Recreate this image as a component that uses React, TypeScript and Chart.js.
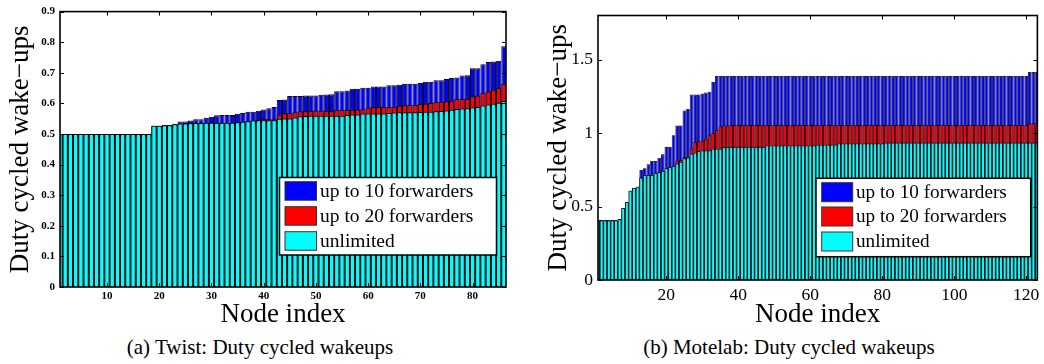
import React, { useEffect, useRef } from "react";
import { Chart, registerables } from "chart.js";

Chart.register(...registerables);

const SERIF = '"Liberation Serif", "Times New Roman", serif';

// ---------- Data ----------
const seriesLabels = ["up to 10 forwarders", "up to 20 forwarders", "unlimited"];
const seriesColors = ["#0000ff", "#ff0000", "#00ffff"];

// (a) Twist: 86 nodes, sorted
const twistUnlimited = [
  0.500, 0.500, 0.500, 0.500, 0.500, 0.500, 0.500, 0.500, 0.500, 0.500,
  0.500, 0.500, 0.500, 0.500, 0.500, 0.500, 0.500, 0.500, 0.527, 0.527,
  0.529, 0.529, 0.532, 0.534, 0.534, 0.535, 0.536, 0.536, 0.537, 0.537,
  0.537, 0.537, 0.537, 0.537, 0.538, 0.540, 0.542, 0.544, 0.545, 0.545,
  0.545, 0.545, 0.550, 0.551, 0.551, 0.554, 0.558, 0.559, 0.560, 0.560,
  0.560, 0.560, 0.560, 0.560, 0.560, 0.562, 0.564, 0.564, 0.567, 0.567,
  0.567, 0.567, 0.567, 0.569, 0.570, 0.571, 0.571, 0.571, 0.571, 0.572,
  0.573, 0.573, 0.574, 0.575, 0.577, 0.579, 0.582, 0.583, 0.584, 0.587,
  0.588, 0.593, 0.596, 0.599, 0.602, 0.608,
];
const twistUpTo20 = [
  0.500, 0.500, 0.500, 0.500, 0.500, 0.500, 0.500, 0.500, 0.500, 0.500,
  0.500, 0.500, 0.500, 0.500, 0.500, 0.500, 0.500, 0.500, 0.527, 0.527,
  0.529, 0.529, 0.532, 0.534, 0.534, 0.535, 0.536, 0.536, 0.537, 0.537,
  0.537, 0.537, 0.537, 0.537, 0.538, 0.540, 0.542, 0.544, 0.545, 0.550,
  0.550, 0.548, 0.564, 0.568, 0.568, 0.571, 0.574, 0.574, 0.576, 0.577,
  0.577, 0.576, 0.575, 0.579, 0.579, 0.579, 0.579, 0.580, 0.581, 0.586,
  0.588, 0.588, 0.588, 0.588, 0.589, 0.592, 0.594, 0.595, 0.595, 0.598,
  0.599, 0.601, 0.605, 0.605, 0.607, 0.609, 0.615, 0.615, 0.615, 0.623,
  0.626, 0.635, 0.639, 0.645, 0.651, 0.664,
];
const twistUpTo10 = [
  0.500, 0.500, 0.500, 0.500, 0.500, 0.500, 0.500, 0.500, 0.500, 0.500,
  0.500, 0.500, 0.500, 0.500, 0.500, 0.500, 0.500, 0.500, 0.527, 0.527,
  0.529, 0.529, 0.532, 0.541, 0.541, 0.544, 0.548, 0.548, 0.553, 0.556,
  0.561, 0.562, 0.562, 0.562, 0.566, 0.569, 0.573, 0.573, 0.576, 0.580,
  0.584, 0.588, 0.611, 0.613, 0.624, 0.624, 0.624, 0.626, 0.626, 0.626,
  0.628, 0.629, 0.630, 0.640, 0.640, 0.642, 0.648, 0.648, 0.651, 0.651,
  0.655, 0.655, 0.655, 0.659, 0.659, 0.661, 0.664, 0.664, 0.664, 0.667,
  0.671, 0.671, 0.676, 0.676, 0.680, 0.683, 0.685, 0.691, 0.692, 0.715,
  0.715, 0.728, 0.735, 0.737, 0.739, 0.787,
];
const twistXTicks = [10, 20, 30, 40, 50, 60, 70, 80];
const twistYTicks = [0, 0.1, 0.2, 0.3, 0.4, 0.5, 0.6, 0.7, 0.8, 0.9];

// (b) Motelab: 123 nodes, sorted
const motelabUnlimited = [
  0.406, 0.406, 0.406, 0.406, 0.406, 0.406, 0.413, 0.489, 0.529, 0.608,
  0.626, 0.635, 0.697, 0.715, 0.715, 0.715, 0.729, 0.733, 0.742, 0.760,
  0.769, 0.776, 0.792, 0.803, 0.828, 0.832, 0.859, 0.866, 0.877, 0.881,
  0.881, 0.881, 0.893, 0.893, 0.893, 0.904, 0.904, 0.906, 0.906, 0.906,
  0.906, 0.906, 0.906, 0.906, 0.906, 0.906, 0.906, 0.915, 0.915, 0.915,
  0.915, 0.915, 0.915, 0.915, 0.915, 0.915, 0.915, 0.915, 0.915, 0.915,
  0.915, 0.920, 0.920, 0.920, 0.920, 0.920, 0.920, 0.929, 0.929, 0.929,
  0.929, 0.929, 0.929, 0.929, 0.929, 0.929, 0.929, 0.929, 0.929, 0.929,
  0.935, 0.935, 0.935, 0.935, 0.935, 0.935, 0.935, 0.935, 0.935, 0.935,
  0.935, 0.935, 0.935, 0.935, 0.935, 0.935, 0.935, 0.935, 0.935, 0.935,
  0.935, 0.935, 0.935, 0.935, 0.935, 0.935, 0.935, 0.935, 0.935, 0.935,
  0.935, 0.935, 0.935, 0.935, 0.935, 0.935, 0.935, 0.935, 0.935, 0.935,
  0.935, 0.935, 0.935,
];
const motelabUpTo20 = [
  0.406, 0.406, 0.406, 0.406, 0.406, 0.406, 0.413, 0.489, 0.529, 0.608,
  0.626, 0.635, 0.697, 0.715, 0.715, 0.715, 0.729, 0.733, 0.742, 0.760,
  0.769, 0.776, 0.814, 0.816, 0.836, 0.841, 0.895, 0.939, 0.944, 0.949,
  0.962, 0.989, 1.000, 1.023, 1.045, 1.052, 1.052, 1.056, 1.056, 1.056,
  1.056, 1.056, 1.056, 1.056, 1.056, 1.056, 1.056, 1.056, 1.056, 1.056,
  1.056, 1.056, 1.056, 1.056, 1.056, 1.056, 1.056, 1.056, 1.056, 1.056,
  1.056, 1.056, 1.056, 1.056, 1.056, 1.056, 1.056, 1.056, 1.056, 1.056,
  1.056, 1.056, 1.056, 1.056, 1.056, 1.056, 1.056, 1.056, 1.056, 1.056,
  1.056, 1.056, 1.056, 1.056, 1.056, 1.056, 1.056, 1.056, 1.056, 1.056,
  1.056, 1.056, 1.056, 1.056, 1.056, 1.056, 1.056, 1.056, 1.056, 1.056,
  1.056, 1.056, 1.056, 1.056, 1.056, 1.056, 1.056, 1.056, 1.056, 1.056,
  1.056, 1.056, 1.056, 1.056, 1.056, 1.056, 1.056, 1.056, 1.056, 1.056,
  1.067, 1.067, 1.067,
];
const motelabUpTo10 = [
  0.406, 0.406, 0.406, 0.406, 0.406, 0.406, 0.413, 0.489, 0.529, 0.608,
  0.626, 0.635, 0.749, 0.760, 0.787, 0.810, 0.810, 0.832, 0.855, 0.906,
  0.906, 0.985, 1.052, 1.052, 1.153, 1.164, 1.263, 1.263, 1.263, 1.269,
  1.276, 1.281, 1.348, 1.388, 1.388, 1.388, 1.388, 1.388, 1.388, 1.388,
  1.388, 1.388, 1.388, 1.388, 1.388, 1.388, 1.388, 1.388, 1.388, 1.388,
  1.388, 1.388, 1.388, 1.388, 1.388, 1.388, 1.388, 1.388, 1.388, 1.388,
  1.388, 1.388, 1.388, 1.388, 1.388, 1.388, 1.388, 1.388, 1.388, 1.388,
  1.388, 1.388, 1.388, 1.388, 1.388, 1.388, 1.388, 1.388, 1.388, 1.388,
  1.388, 1.388, 1.388, 1.388, 1.388, 1.388, 1.388, 1.388, 1.388, 1.388,
  1.388, 1.388, 1.388, 1.388, 1.388, 1.388, 1.388, 1.388, 1.388, 1.388,
  1.388, 1.388, 1.388, 1.388, 1.388, 1.388, 1.388, 1.388, 1.388, 1.388,
  1.388, 1.388, 1.388, 1.388, 1.388, 1.388, 1.388, 1.388, 1.388, 1.388,
  1.415, 1.415, 1.415,
];
const motelabXTicks = [20, 40, 60, 80, 100, 120];
const motelabYTicks = [0, 0.5, 1, 1.5];

const xTitle = "Node index";
const yTitle = "Duty cycled wake\u2212ups";
const captionA = "(a) Twist: Duty cycled wakeups";
const captionB = "(b) Motelab: Duty cycled wakeups";

type PanelCfg = {
  width: number;
  height: number;
  series: number[][]; // [upTo10, upTo20, unlimited]
  xMin: number;
  xMax: number;
  yMax: number;
  xTicks: number[];
  yTicks: number[];
  tickFont: { size: number; weight: string };
  xTickPad: number;
  yTickPad: number;
  yAxisWidth: number;
  xAxisHeight: number;
  padTop: number;
  padRight: number;
  yTitlePad: number;
  xTitlePad: number;
  barBorder: number;
  legend: {
    x: number; y: number; w: number; h: number;
    swX: number; swW: number; swH: number; rowTops: number[];
    textX: number; fontSize: number;
  };
};

function Panel({ cfg }: { cfg: PanelCfg }) {
  const ref = useRef<HTMLCanvasElement | null>(null);
  useEffect(() => {
    if (!ref.current) return;
    const toPts = (arr: number[]) => arr.map((v, i) => ({ x: i + 1, y: v }));
    const orders = [2, 1, 0];
    const datasets = cfg.series.map((arr, k) => ({
      label: seriesLabels[k],
      data: toPts(arr),
      backgroundColor: seriesColors[k],
      borderColor: "#000000",
      borderWidth: cfg.barBorder,
      borderSkipped: "start",
      grouped: false,
      categoryPercentage: 1,
      barPercentage: 1,
      inflateAmount: 0,
      clip: 0,
      order: orders[k],
    }));

    const framePlugin = {
      id: "frame",
      afterDraw(chart: any) {
        const { ctx, chartArea: a } = chart;
        const xs = chart.scales.x;
        const ys = chart.scales.y;
        const L = 4;
        ctx.save();
        ctx.strokeStyle = "#000";
        ctx.lineWidth = 1;
        ctx.beginPath();
        cfg.xTicks.forEach((v) => {
          const px = Math.round(xs.getPixelForValue(v)) + 0.5;
          ctx.moveTo(px, a.bottom);
          ctx.lineTo(px, a.bottom - L);
          ctx.moveTo(px, a.top);
          ctx.lineTo(px, a.top + L);
        });
        cfg.yTicks.forEach((v) => {
          const py = Math.round(ys.getPixelForValue(v)) + 0.5;
          ctx.moveTo(a.left, py);
          ctx.lineTo(a.left + L, py);
          ctx.moveTo(a.right, py);
          ctx.lineTo(a.right - L, py);
        });
        ctx.stroke();
        ctx.lineWidth = 1.6;
        ctx.strokeRect(a.left, a.top, a.right - a.left, a.bottom - a.top);
        ctx.restore();
      },
    };

    const legendPlugin = {
      id: "boxLegend",
      afterDraw(chart: any) {
        const ctx = chart.ctx;
        const o = cfg.legend;
        ctx.save();
        ctx.fillStyle = "#ffffff";
        ctx.fillRect(o.x, o.y, o.w, o.h);
        ctx.strokeStyle = "#000";
        ctx.lineWidth = 1.5;
        ctx.strokeRect(o.x, o.y, o.w, o.h);
        seriesLabels.forEach((lab, i) => {
          const top = o.rowTops[i];
          ctx.fillStyle = seriesColors[i];
          ctx.fillRect(o.swX, top, o.swW, o.swH);
          ctx.strokeStyle = "#333";
          ctx.lineWidth = 1;
          ctx.strokeRect(o.swX, top, o.swW, o.swH);
          ctx.fillStyle = "#000";
          ctx.font = `${o.fontSize}px ${SERIF}`;
          ctx.textBaseline = "middle";
          ctx.textAlign = "left";
          ctx.fillText(lab, o.textX, top + o.swH / 2 + 0.5);
        });
        ctx.restore();
      },
    };

    const chart = new Chart(ref.current, {
      type: "bar",
      data: { datasets: datasets as any },
      options: {
        animation: false,
        responsive: false,
        maintainAspectRatio: false,
        devicePixelRatio: 1,
        layout: { padding: { top: cfg.padTop, right: cfg.padRight, left: 0, bottom: 0 } },
        plugins: { legend: { display: false }, tooltip: { enabled: false } },
        scales: {
          x: {
            type: "linear",
            min: cfg.xMin,
            max: cfg.xMax,
            offset: false,
            grid: { display: false, drawTicks: false },
            border: { display: false },
            afterBuildTicks: (s: any) => {
              s.ticks = cfg.xTicks.map((v) => ({ value: v }));
            },
            afterFit: (s: any) => {
              s.height = cfg.xAxisHeight;
            },
            ticks: {
              color: "#000",
              font: { family: SERIF, size: cfg.tickFont.size, weight: cfg.tickFont.weight as any },
              padding: cfg.xTickPad,
              autoSkip: false,
              maxRotation: 0,
              callback: (v: any) => String(v),
            },
            title: {
              display: true,
              text: xTitle,
              color: "#000",
              font: { family: SERIF, size: 27, lineHeight: 1 },
              padding: { top: 0, bottom: cfg.xTitlePad },
            },
          },
          y: {
            type: "linear",
            min: 0,
            max: cfg.yMax,
            grid: { display: false, drawTicks: false },
            border: { display: false },
            afterBuildTicks: (s: any) => {
              s.ticks = cfg.yTicks.map((v) => ({ value: v }));
            },
            afterFit: (s: any) => {
              s.width = cfg.yAxisWidth;
            },
            ticks: {
              color: "#000",
              font: { family: SERIF, size: cfg.tickFont.size, weight: cfg.tickFont.weight as any },
              padding: cfg.yTickPad,
              autoSkip: false,
              callback: (v: any) => String(v),
            },
            title: {
              display: true,
              text: yTitle,
              color: "#000",
              font: { family: SERIF, size: 27, lineHeight: 1 },
              padding: { top: cfg.yTitlePad, bottom: 0 },
            },
          },
        },
      },
      plugins: [framePlugin, legendPlugin],
    });
    return () => chart.destroy();
  }, [cfg]);

  return (
    <canvas
      ref={ref}
      width={cfg.width}
      height={cfg.height}
      style={{ width: cfg.width, height: cfg.height, display: "block" }}
    />
  );
}

const twistCfg: PanelCfg = {
  width: 520,
  height: 335,
  series: [twistUpTo10, twistUpTo20, twistUnlimited],
  xMin: 1,
  xMax: 86.4,
  yMax: 0.9,
  xTicks: twistXTicks,
  yTicks: twistYTicks,
  tickFont: { size: 11, weight: "bold" },
  xTickPad: 3,
  yTickPad: 5,
  yAxisWidth: 60,
  xAxisHeight: 48,
  padTop: 10,
  padRight: 14,
  yTitlePad: 7.5,
  xTitlePad: 6.5,
  barBorder: 1,
  legend: {
    x: 279.5, y: 177.5, w: 217, h: 77.5,
    swX: 285, swW: 31.5, swH: 18.5, rowTops: [181.7, 206.7, 231.7],
    textX: 320, fontSize: 19.5,
  },
};

const motelabCfg: PanelCfg = {
  width: 524,
  height: 335,
  series: [motelabUpTo10, motelabUpTo20, motelabUnlimited],
  xMin: 1,
  xMax: 123.1,
  yMax: 1.8,
  xTicks: motelabXTicks,
  yTicks: motelabYTicks,
  tickFont: { size: 17.5, weight: "normal" },
  xTickPad: 4.5,
  yTickPad: 5,
  yAxisWidth: 78,
  xAxisHeight: 55,
  padTop: 13,
  padRight: 6,
  yTitlePad: 25.5,
  xTitlePad: 6.5,
  barBorder: 0.8,
  legend: {
    x: 296, y: 178.3, w: 214.7, h: 78.4,
    swX: 301.7, swW: 31, swH: 19, rowTops: [182.7, 207, 232],
    textX: 336, fontSize: 19.2,
  },
};

export default function App() {
  const captionStyle: React.CSSProperties = {
    position: "absolute",
    top: 335,
    height: 24,
    lineHeight: "24px",
    fontFamily: SERIF,
    fontSize: 21,
    color: "#000",
    textAlign: "center",
    whiteSpace: "nowrap",
  };
  return (
    <div
      style={{
        position: "absolute",
        left: 0,
        top: 0,
        width: 1044,
        height: 364,
        background: "#ffffff",
        overflow: "hidden",
      }}
    >
      <div style={{ position: "absolute", left: 0, top: 0 }}>
        <Panel cfg={twistCfg} />
      </div>
      <div style={{ position: "absolute", left: 520, top: 0 }}>
        <Panel cfg={motelabCfg} />
      </div>
      <div style={{ ...captionStyle, left: 0, width: 520 }}>{captionA}</div>
      <div style={{ ...captionStyle, left: 539, width: 500 }}>{captionB}</div>
    </div>
  );
}
